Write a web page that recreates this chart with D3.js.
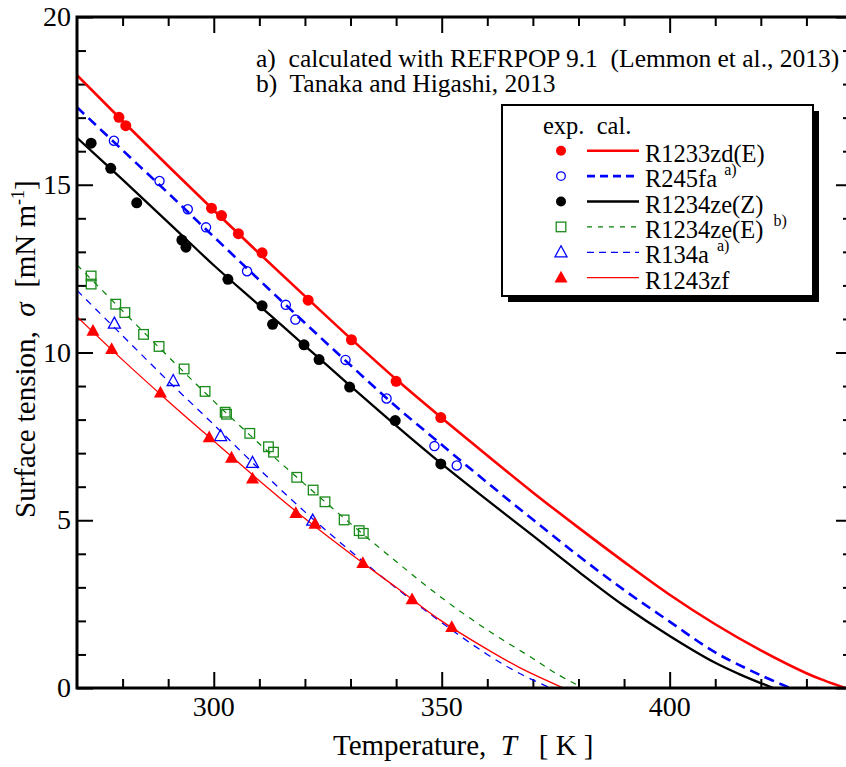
<!DOCTYPE html>
<html>
<head>
<meta charset="utf-8">
<script src="https://cdn.jsdelivr.net/npm/d3@7"></script>
<style>
  body { margin: 0; background: #fff; }
  text { font-family: "Liberation Serif", "Times New Roman", serif; fill: #000; }
</style>
</head>
<body>
<div id="chart"></div>
<script>
// ---- data ----
var tempMajor = [300, 350, 400];
var tempMinor = [280, 290, 310, 320, 330, 340, 360, 370, 380, 390, 410, 420, 430];
var sigmaMajor = [0, 5, 10, 15, 20];
var sigmaMinor = [1, 2, 3, 4, 6, 7, 8, 9, 11, 12, 13, 14, 16, 17, 18, 19];

// experimental points
var r1233zdT = [279.2, 280.7, 299.5, 301.7, 305.4, 310.6, 320.7, 330.2, 340.0, 349.8];
var r1233zdS = [17.01, 16.76, 14.30, 14.08, 13.54, 12.97, 11.56, 10.38, 9.14, 8.06];
var r245faT = [278.1, 288.1, 294.3, 298.3, 307.3, 315.8, 317.9, 328.9, 337.9, 348.4, 353.3];
var r245faS = [16.31, 15.11, 14.27, 13.73, 12.42, 11.42, 10.98, 9.78, 8.63, 7.21, 6.63];
var r1234zeZT = [273.1, 277.4, 283.1, 293.0, 293.9, 303.1, 310.6, 312.9, 319.8, 323.1, 329.8, 339.8, 349.8];
var r1234zeZS = [16.24, 15.49, 14.46, 13.35, 13.14, 12.18, 11.39, 10.84, 10.23, 9.79, 8.97, 7.97, 6.68];
var r1234zeET = [273.1, 273.1, 278.5, 280.5, 284.6, 288.0, 293.5, 298.1, 302.5, 302.8, 307.9, 312.0, 313.1, 318.2, 321.8, 324.4, 328.6, 331.9, 332.8];
var r1234zeES = [12.28, 12.04, 11.44, 11.19, 10.54, 10.18, 9.51, 8.84, 8.22, 8.16, 7.59, 7.19, 7.03, 6.28, 5.90, 5.55, 5.01, 4.69, 4.61];
var r134aT = [278.2, 291.1, 301.5, 308.5, 321.7];
var r134aS = [10.86, 9.15, 7.51, 6.71, 4.99];
var r1243zfT = [273.5, 277.6, 288.3, 299.0, 303.9, 308.5, 318.0, 322.2, 332.7, 343.5, 352.2];
var r1243zfS = [10.64, 10.10, 8.80, 7.47, 6.86, 6.24, 5.21, 4.89, 3.72, 2.64, 1.81];

// calculated curves
var cal1233zdT = [270, 280, 290, 300, 310, 320, 330, 340, 350, 360, 370, 380, 390, 400, 410, 420, 430, 434, 438.5];
var cal1233zdS = [18.27, 16.90, 15.56, 14.24, 12.95, 11.68, 10.42, 9.20, 8.05, 6.93, 5.83, 4.78, 3.76, 2.78, 1.90, 1.12, 0.44, 0.22, 0];
var cal245faT = [270, 280, 290, 300, 310, 320, 330, 340, 350, 360, 370, 380, 390, 400, 410, 420, 426.4];
var cal245faS = [17.31, 16.03, 14.75, 13.45, 12.16, 10.88, 9.62, 8.39, 7.25, 6.12, 5.02, 3.94, 2.92, 1.98, 1.06, 0.38, 0];
var cal1234zeZT = [270, 280, 290, 300, 310, 320, 330, 340, 350, 360, 370, 380, 390, 400, 410, 416, 422.7];
var cal1234zeZS = [16.40, 15.15, 13.88, 12.60, 11.40, 10.20, 9.00, 7.82, 6.68, 5.60, 4.54, 3.47, 2.45, 1.55, 0.75, 0.37, 0];
var cal1234zeET = [270, 280, 290, 300, 310, 320, 330, 340, 350, 360, 370, 375, 381];
var cal1234zeES = [12.61, 11.24, 9.88, 8.55, 7.28, 6.07, 4.90, 3.77, 2.69, 1.73, 0.88, 0.44, 0];
var cal134aT = [270, 280, 290, 300, 310, 320, 330, 340, 350, 360, 367, 373.8];
var cal134aS = [11.85, 10.50, 9.15, 7.85, 6.52, 5.25, 4.08, 2.98, 1.95, 1.00, 0.44, 0];
var cal1243zfT = [270, 280, 290, 300, 310, 320, 330, 340, 349.6, 360, 367.2, 376.7];
var cal1243zfS = [11.07, 9.78, 8.55, 7.36, 6.18, 5.05, 4.00, 3.00, 2.03, 1.15, 0.60, 0];

var legendNames = ["R1233zd(E)", "R245fa", "R1234ze(Z)", "R1234ze(E)", "R134a", "R1243zf"];
var legendNotes = ["", "a)", "", "b)", "a)", ""];

// ---- layout ----
var svgWidth = 846, svgHeight = 767;
var margin = { top: 17, left: 77, right: 852, bottom: 688 };

var svg = d3.select("#chart").append("svg")
  .attr("width", svgWidth)
  .attr("height", svgHeight);

var x = d3.scaleLinear().domain([270, 440]).range([margin.left, margin.right]);
var y = d3.scaleLinear().domain([0, 20]).range([margin.bottom, margin.top]);

function pairs(ts, ss) {
  return ts.map(function (t, i) { return { t: t, s: ss[i] }; });
}

// ---- ticks (inward on all four sides) ----
function tickGroup(axis, transform) {
  var g = svg.append("g").attr("transform", transform).call(axis);
  g.select(".domain").remove();
  g.selectAll("line").attr("stroke", "#000").attr("stroke-width", 2);
  g.selectAll("text").remove();
}
tickGroup(d3.axisBottom(x).tickValues(tempMajor).tickSize(-16), "translate(0," + margin.bottom + ")");
tickGroup(d3.axisBottom(x).tickValues(tempMinor).tickSize(-9), "translate(0," + margin.bottom + ")");
tickGroup(d3.axisTop(x).tickValues(tempMajor).tickSize(-16), "translate(0," + margin.top + ")");
tickGroup(d3.axisTop(x).tickValues(tempMinor).tickSize(-9), "translate(0," + margin.top + ")");
tickGroup(d3.axisLeft(y).tickValues(sigmaMajor).tickSize(-16), "translate(" + margin.left + ",0)");
tickGroup(d3.axisLeft(y).tickValues(sigmaMinor).tickSize(-9), "translate(" + margin.left + ",0)");
tickGroup(d3.axisRight(y).tickValues(sigmaMajor).tickSize(-16), "translate(" + margin.right + ",0)");
tickGroup(d3.axisRight(y).tickValues(sigmaMinor).tickSize(-9), "translate(" + margin.right + ",0)");

// tick labels
svg.selectAll(".xlab").data(tempMajor).enter().append("text")
  .attr("x", function (d) { return x(d); })
  .attr("y", margin.bottom + 28)
  .attr("text-anchor", "middle")
  .style("font-size", "28px")
  .text(function (d) { return d; });
svg.selectAll(".ylab").data(sigmaMajor).enter().append("text")
  .attr("x", margin.left - 6)
  .attr("y", function (d) { return y(d) + 9; })
  .attr("text-anchor", "end")
  .style("font-size", "28px")
  .text(function (d) { return d; });

// axis titles
var xTitle = svg.append("text")
  .attr("x", 333).attr("y", 755)
  .style("font-size", "29px")
  .attr("xml:space", "preserve");
xTitle.append("tspan").text("Temperature,  ");
xTitle.append("tspan").style("font-style", "italic").text("T");
xTitle.append("tspan").text("   [ K ]");

var yTitle = svg.append("text")
  .attr("transform", "translate(35,518) rotate(-90)")
  .style("font-size", "29px")
  .attr("xml:space", "preserve");
yTitle.append("tspan").text("Surface tension,  ");
yTitle.append("tspan").style("font-style", "italic").text("σ");
yTitle.append("tspan").text("  [mN m");
yTitle.append("tspan").attr("dy", -11).style("font-size", "18px").text("-1");
yTitle.append("tspan").attr("dy", 11).text("]");

// ---- curves ----
var line = d3.line()
  .x(function (d) { return x(d.t); })
  .y(function (d) { return y(d.s); })
  .curve(d3.curveCatmullRom.alpha(0.5));

svg.append("clipPath").attr("id", "plotclip").append("rect")
  .attr("x", margin.left).attr("y", margin.top)
  .attr("width", margin.right - margin.left).attr("height", margin.bottom - margin.top);

var plot = svg.append("g").attr("clip-path", "url(#plotclip)");

var curveStyles = [
  { ts: cal1233zdT, ss: cal1233zdS, color: "#ff0000", width: 2.6, dash: null, legendDash: null },
  { ts: cal245faT, ss: cal245faS, color: "#0000ff", width: 2.6, dash: "10,6", legendDash: "8,5" },
  { ts: cal1234zeZT, ss: cal1234zeZS, color: "#000000", width: 2.3, dash: null, legendDash: null },
  { ts: cal1234zeET, ss: cal1234zeES, color: "#008000", width: 1.2, dash: "6,6", legendDash: "5,6" },
  { ts: cal134aT, ss: cal134aS, color: "#0000ff", width: 1.3, dash: "7,6", legendDash: "7,5" },
  { ts: cal1243zfT, ss: cal1243zfS, color: "#ff0000", width: 1.3, dash: null, legendDash: null }
];

curveStyles.forEach(function (c) {
  plot.append("path")
    .datum(pairs(c.ts, c.ss))
    .attr("d", line)
    .attr("fill", "none")
    .attr("stroke", c.color)
    .attr("stroke-width", c.width)
    .attr("stroke-dasharray", c.dash);
});

// ---- markers ----
var markerShapes = {
  circleFill: function (g, color) { g.append("circle").attr("r", 5.5).attr("fill", color); },
  circleOpen: function (g, color) { g.append("circle").attr("r", 4.6).attr("fill", "none").attr("stroke", color).attr("stroke-width", 1.3); },
  square: function (g, color) { g.append("rect").attr("x", -4.8).attr("y", -4.8).attr("width", 9.6).attr("height", 9.6).attr("fill", "none").attr("stroke", color).attr("stroke-width", 1.3); },
  triOpen: function (g, color) { g.append("path").attr("d", "M0,-6.5L6,4.5L-6,4.5Z").attr("fill", "none").attr("stroke", color).attr("stroke-width", 1.3); },
  triFill: function (g, color) { g.append("path").attr("d", "M0,-7L6.5,4.8L-6.5,4.8Z").attr("fill", color); }
};

var expSeries = [
  { ts: r1233zdT, ss: r1233zdS, shape: "circleFill", color: "#ff0000" },
  { ts: r245faT, ss: r245faS, shape: "circleOpen", color: "#0000ff" },
  { ts: r1234zeZT, ss: r1234zeZS, shape: "circleFill", color: "#000000" },
  { ts: r1234zeET, ss: r1234zeES, shape: "square", color: "#1a8a1a" },
  { ts: r134aT, ss: r134aS, shape: "triOpen", color: "#0000ff" },
  { ts: r1243zfT, ss: r1243zfS, shape: "triFill", color: "#ff0000" }
];

expSeries.forEach(function (sr) {
  plot.selectAll(null)
    .data(pairs(sr.ts, sr.ss))
    .enter()
    .append("g")
    .attr("transform", function (d) { return "translate(" + x(d.t) + "," + y(d.s) + ")"; })
    .each(function () { markerShapes[sr.shape](d3.select(this), sr.color); });
});

// frame
svg.append("rect")
  .attr("x", margin.left).attr("y", margin.top)
  .attr("width", margin.right - margin.left).attr("height", margin.bottom - margin.top)
  .attr("fill", "none").attr("stroke", "#000").attr("stroke-width", 3);

// ---- notes ----
svg.append("text").attr("x", 256).attr("y", 67).style("font-size", "25.5px")
  .attr("xml:space", "preserve")
  .text("a)  calculated with REFRPOP 9.1  (Lemmon et al., 2013)");
svg.append("text").attr("x", 256).attr("y", 92).style("font-size", "25.5px")
  .attr("xml:space", "preserve")
  .text("b)  Tanaka and Higashi, 2013");

// ---- legend ----
var lg = svg.append("g");
lg.append("rect").attr("x", 508).attr("y", 111).attr("width", 311).attr("height", 191).attr("fill", "#000");
lg.append("rect").attr("x", 502).attr("y", 105).attr("width", 311).attr("height", 191)
  .attr("fill", "#fff").attr("stroke", "#000").attr("stroke-width", 2);
lg.append("text").attr("x", 543).attr("y", 134).style("font-size", "24.5px")
  .attr("xml:space", "preserve").text("exp.  cal.");

var noteGap = [0, 7, 0, 10, 8, 0];
legendNames.forEach(function (name, i) {
  var cy = 150.7 + i * 25.4;
  var m = lg.append("g").attr("transform", "translate(561," + cy + ")");
  markerShapes[expSeries[i].shape](m, expSeries[i].color);
  m.select("circle").attr("r", expSeries[i].shape === "circleFill" ? 5 : 4.3);
  lg.append("line").attr("x1", 587).attr("x2", 639).attr("y1", cy).attr("y2", cy)
    .attr("stroke", curveStyles[i].color)
    .attr("stroke-width", curveStyles[i].width)
    .attr("stroke-dasharray", curveStyles[i].legendDash);
  var t = lg.append("text").attr("x", 645).attr("y", cy + 11).style("font-size", "24.5px").text(name);
  if (legendNotes[i]) {
    var w = t.node().getComputedTextLength();
    lg.append("text")
      .attr("x", 645 + w + noteGap[i])
      .attr("y", cy - 1)
      .style("font-size", "16px")
      .text(legendNotes[i]);
  }
});
</script>
</body>
</html>
